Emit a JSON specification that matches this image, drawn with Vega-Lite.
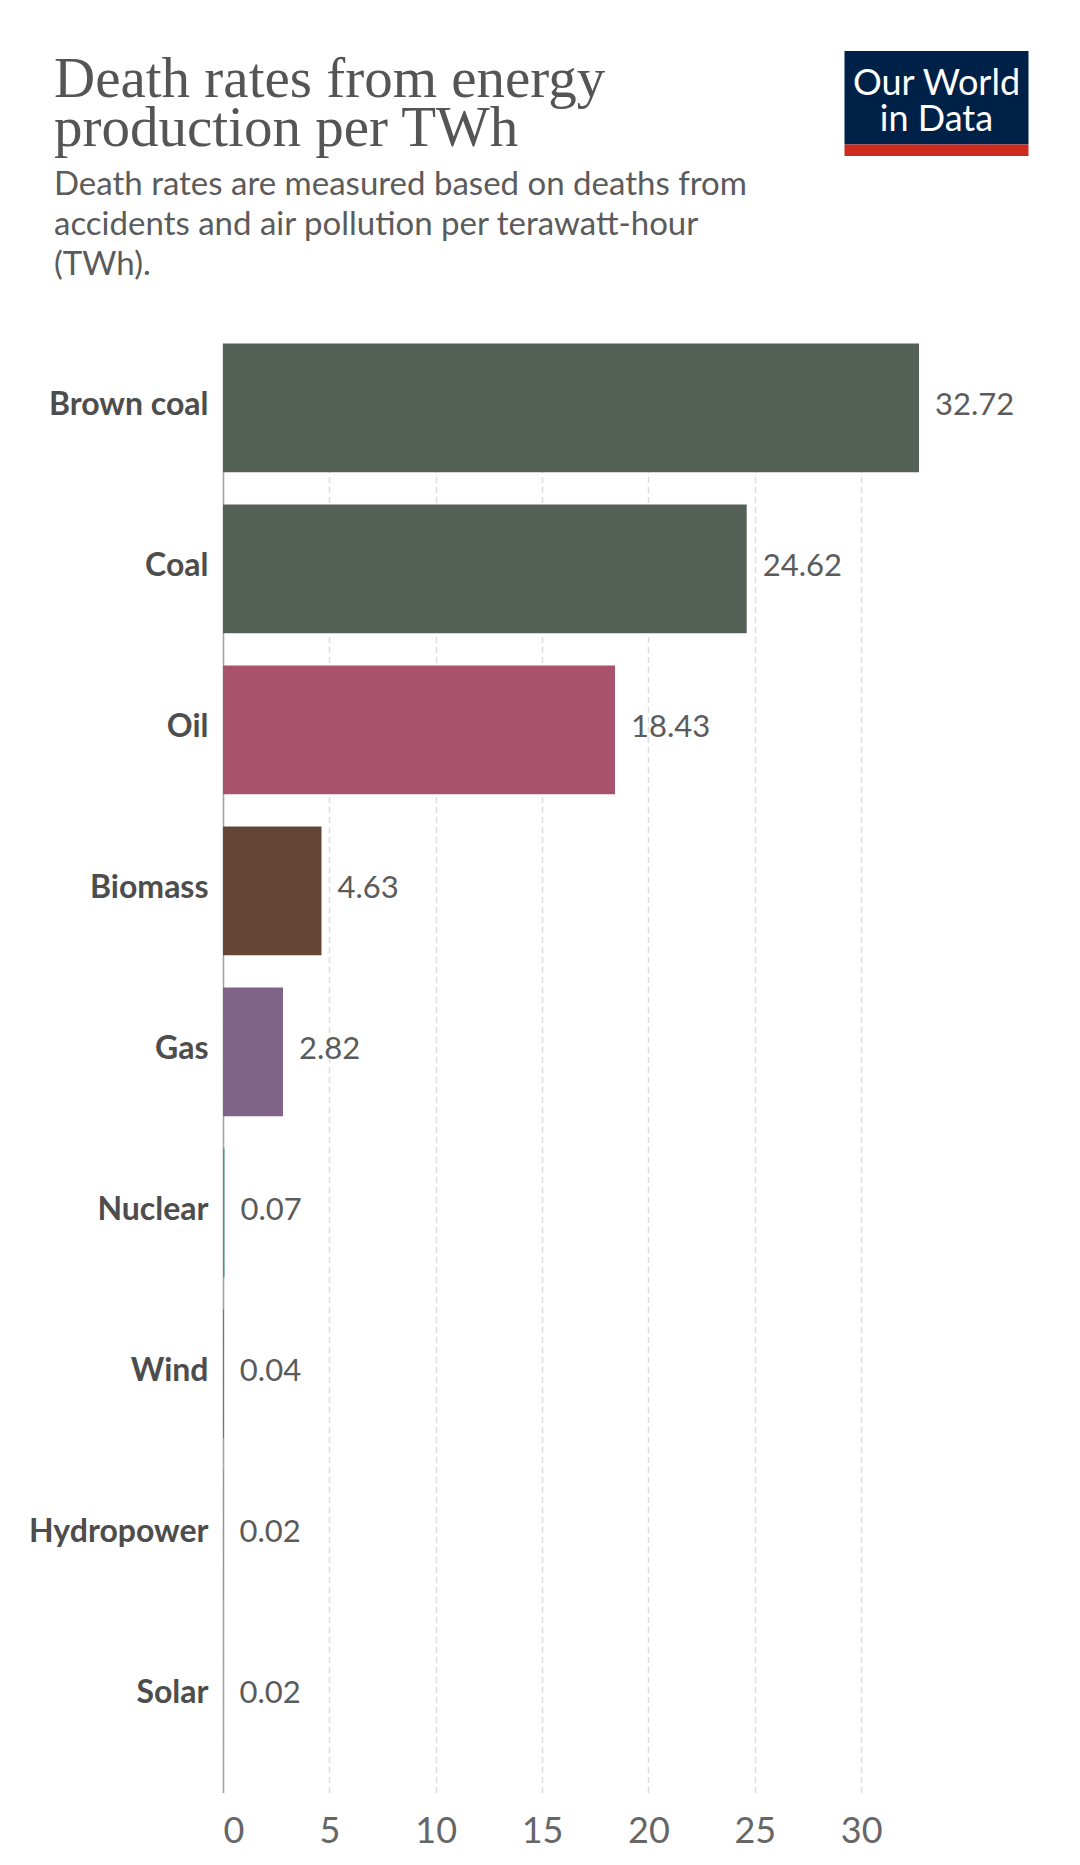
{
  "$schema": "https://vega.github.io/schema/vega-lite/v6.json",
  "background": "#ffffff",
  "padding": {"left": 28, "top": 51, "right": 8, "bottom": 10},
  "config": {
    "view": {"stroke": null},
    "font": "Lato",
    "axis": {"labelFont": "Lato", "titleFont": "Lato"}
  },
  "datasets": {
    "energy": [
      {"source": "Brown coal", "rate": 32.72},
      {"source": "Coal", "rate": 24.62},
      {"source": "Oil", "rate": 18.43},
      {"source": "Biomass", "rate": 4.63},
      {"source": "Gas", "rate": 2.82},
      {"source": "Nuclear", "rate": 0.07},
      {"source": "Wind", "rate": 0.04},
      {"source": "Hydropower", "rate": 0.02},
      {"source": "Solar", "rate": 0.02}
    ],
    "logo": [{"name": "Our World in Data"}]
  },
  "columns": 2,
  "align": "none",
  "bounds": "flush",
  "spacing": {"row": 187.5, "column": -74.5},
  "concat": [
    {
      "width": 621.5,
      "height": 1,
      "data": {"values": []},
      "mark": "rect",
      "title": {
        "text": ["Death rates from energy", "production per TWh"],
        "subtitle": [
          "Death rates are measured based on deaths from",
          "accidents and air pollution per terawatt-hour",
          "(TWh)."
        ],
        "orient": "bottom",
        "anchor": "start",
        "frame": "group",
        "dx": -169,
        "offset": 0,
        "font": "Liberation Serif",
        "fontSize": 57,
        "fontWeight": "normal",
        "color": "#555555",
        "lineHeight": 49,
        "subtitleFont": "Lato",
        "subtitleFontSize": 33,
        "subtitleColor": "#5b5b5b",
        "subtitleLineHeight": 40,
        "subtitlePadding": 11
      }
    },
    {
      "width": 184,
      "height": 105,
      "data": {"name": "logo"},
      "layer": [
        {
          "mark": {"type": "rect", "color": "#002147"},
          "encoding": {
            "x": {"datum": 0, "type": "quantitative", "scale": {"domain": [0, 1]}, "axis": null},
            "x2": {"datum": 1},
            "y": {"datum": 0.11, "type": "quantitative", "scale": {"domain": [0, 1]}, "axis": null},
            "y2": {"datum": 1}
          }
        },
        {
          "mark": {"type": "rect", "color": "#ce2b1f"},
          "encoding": {
            "x": {"datum": 0, "type": "quantitative"},
            "x2": {"datum": 1},
            "y": {"datum": 0, "type": "quantitative"},
            "y2": {"datum": 0.11}
          }
        },
        {
          "mark": {
            "type": "text",
            "color": "#ffffff",
            "font": "Lato",
            "fontSize": 36,
            "align": "center",
            "baseline": "alphabetic",
            "lineHeight": 36
          },
          "encoding": {
            "x": {"datum": 0.5, "type": "quantitative"},
            "y": {"datum": 0.58, "type": "quantitative"},
            "text": {"value": ["Our World", "in Data"]}
          }
        }
      ]
    },
    {
      "width": 696,
      "height": 1449,
      "data": {"name": "energy"},
      "encoding": {
        "y": {
          "field": "source",
          "type": "nominal",
          "sort": null,
          "scale": {"paddingInner": 0.2, "paddingOuter": 0.1, "align": 0},
          "axis": {
            "title": null,
            "ticks": false,
            "domain": true,
            "domainColor": "#a3a3a3",
            "domainWidth": 1.5,
            "labelFontSize": 32,
            "labelFontWeight": "bold",
            "labelColor": "#4d4d4d",
            "labelPadding": 15,
            "labelOffset": -3,
            "grid": false
          }
        },
        "x": {
          "field": "rate",
          "type": "quantitative",
          "scale": {"domain": [0, 32.72], "nice": false},
          "axis": {
            "title": null,
            "values": [0, 5, 10, 15, 20, 25, 30],
            "domain": false,
            "ticks": false,
            "labelFontSize": 36,
            "labelColor": "#666666",
            "labelPadding": 22,
            "labelFlush": true,
            "grid": true,
            "gridColor": "#dddddd",
            "gridWidth": 1.5,
            "gridDash": [6, 4]
          }
        }
      },
      "layer": [
        {
          "mark": {"type": "bar"},
          "encoding": {
            "color": {
              "field": "source",
              "type": "nominal",
              "legend": null,
              "scale": {
                "domain": ["Brown coal", "Coal", "Oil", "Biomass", "Gas", "Nuclear", "Wind", "Hydropower", "Solar"],
                "range": ["#536156", "#536156", "#a8526e", "#654636", "#806487", "#3f9d8c", "#5b6c86", "#71838f", "#b88b8b"]
              }
            }
          }
        },
        {
          "mark": {
            "type": "text",
            "align": "left",
            "baseline": "middle",
            "dx": 16,
            "dy": -2,
            "fontSize": 31,
            "color": "#5b5b5b"
          },
          "encoding": {
            "text": {"field": "rate", "type": "quantitative", "format": ".2f"}
          }
        }
      ]
    }
  ]
}
